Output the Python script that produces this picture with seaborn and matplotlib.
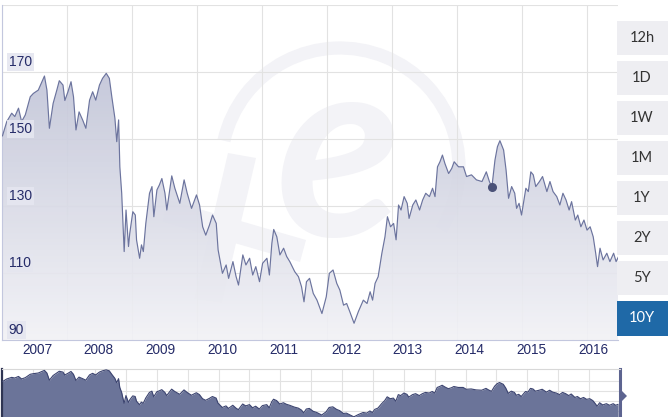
"""Grafico de tipo de cambio a 10 anos con navegador inferior."""

import numpy as np
import pandas as pd
import matplotlib
matplotlib.use("Agg")
import matplotlib.pyplot as plt
import seaborn as sns
from matplotlib.patches import Rectangle, Arc, Polygon
from matplotlib.colors import to_rgb
from matplotlib.transforms import blended_transform_factory


# datos (fecha en anos decimales, cotizacion)
YEARS = [
    2006.78, 2006.85, 2006.93, 2006.98, 2007.04, 2007.09, 2007.15, 2007.23, 2007.28, 2007.36,
    2007.42, 2007.46, 2007.50, 2007.54, 2007.60, 2007.66, 2007.70, 2007.76, 2007.79, 2007.84,
    2007.89, 2007.93, 2007.97, 2008.02, 2008.08, 2008.13, 2008.19, 2008.24, 2008.29, 2008.35,
    2008.40, 2008.46, 2008.51, 2008.55, 2008.60, 2008.63, 2008.66, 2008.68, 2008.71, 2008.75,
    2008.78, 2008.82, 2008.84, 2008.89, 2008.93, 2008.95, 2009.00, 2009.03, 2009.06, 2009.10,
    2009.16, 2009.20, 2009.23, 2009.28, 2009.32, 2009.36, 2009.41, 2009.44, 2009.52, 2009.57,
    2009.65, 2009.72, 2009.77, 2009.84, 2009.92, 2009.97, 2010.02, 2010.07, 2010.13, 2010.18,
    2010.24, 2010.27, 2010.31, 2010.34, 2010.40, 2010.44, 2010.51, 2010.56, 2010.60, 2010.67,
    2010.72, 2010.78, 2010.83, 2010.88, 2010.94, 2010.99, 2011.06, 2011.10, 2011.14, 2011.17,
    2011.22, 2011.27, 2011.33, 2011.38, 2011.43, 2011.51, 2011.57, 2011.62, 2011.66, 2011.70,
    2011.75, 2011.81, 2011.87, 2011.95, 2012.02, 2012.07, 2012.13, 2012.19, 2012.24, 2012.30,
    2012.35, 2012.40, 2012.47, 2012.54, 2012.62, 2012.68, 2012.73, 2012.77, 2012.81, 2012.86,
    2012.92, 2012.97, 2013.01, 2013.06, 2013.11, 2013.15, 2013.19, 2013.23, 2013.28, 2013.33,
    2013.36, 2013.42, 2013.47, 2013.53, 2013.58, 2013.63, 2013.69, 2013.74, 2013.78, 2013.82,
    2013.86, 2013.90, 2013.94, 2014.00, 2014.05, 2014.09, 2014.16, 2014.24, 2014.29, 2014.37,
    2014.45, 2014.54, 2014.61, 2014.66, 2014.70, 2014.75, 2014.79, 2014.83, 2014.89, 2014.93,
    2014.97, 2015.02, 2015.07, 2015.10, 2015.14, 2015.18, 2015.22, 2015.25, 2015.29, 2015.33,
    2015.37, 2015.41, 2015.47, 2015.52, 2015.59, 2015.64, 2015.69, 2015.75, 2015.80, 2015.85,
    2015.90, 2015.95, 2015.99, 2016.05, 2016.09, 2016.14, 2016.19, 2016.24, 2016.29, 2016.34,
    2016.38, 2016.41, 2016.45, 2016.50, 2016.56, 2016.61, 2016.67, 2016.71, 2016.75,
]
RATE = [
    150.9, 155.2, 157.7, 156.7, 159.2, 155.2, 157.2, 162.6, 163.6, 164.6,
    167.1, 168.8, 164.6, 153.2, 160.6, 164.6, 167.4, 166.1, 161.5, 164.1,
    167.1, 162.6, 152.7, 158.1, 155.6, 153.2, 161.6, 164.1, 161.6, 166.1,
    168.1, 169.6, 168.1, 162.6, 156.2, 149.2, 155.7, 141.7, 133.8, 116.4,
    128.8, 117.9, 121.8, 128.3, 127.3, 119.9, 114.4, 118.4, 116.4, 124.8,
    133.8, 135.8, 126.8, 134.8, 136.3, 138.2, 133.8, 128.8, 139.0, 135.3,
    130.8, 137.8, 133.8, 129.3, 133.3, 130.3, 123.8, 121.3, 124.3, 127.3,
    124.8, 116.9, 112.9, 109.9, 112.4, 108.4, 113.4, 109.0, 106.4, 115.4,
    112.4, 114.4, 109.4, 111.9, 107.4, 112.9, 114.4, 109.4, 118.9, 123.0,
    120.8, 115.4, 117.4, 114.9, 113.4, 110.4, 108.9, 105.9, 101.4, 107.4,
    108.4, 103.9, 101.9, 97.9, 102.9, 109.9, 110.9, 106.9, 104.9, 100.4,
    100.9, 98.5, 95.0, 98.5, 101.9, 100.9, 104.4, 101.9, 106.9, 108.9,
    115.9, 120.8, 126.8, 123.8, 124.8, 119.9, 130.3, 128.8, 132.8, 130.8,
    126.3, 130.3, 131.8, 128.8, 131.8, 133.8, 132.8, 135.3, 132.8, 141.7,
    143.2, 145.2, 142.7, 139.7, 141.2, 143.2, 141.7, 141.7, 138.8, 139.3,
    137.8, 137.3, 140.2, 137.3, 135.6, 143.7, 147.7, 149.5, 146.7, 140.7,
    132.3, 135.8, 133.8, 129.3, 130.8, 127.3, 131.8, 135.3, 134.3, 140.2,
    139.3, 135.8, 137.3, 138.8, 134.3, 137.3, 134.3, 132.8, 130.3, 133.8,
    131.8, 128.8, 131.3, 125.8, 127.3, 123.8, 125.8, 122.8, 123.8, 120.8,
    115.9, 111.9, 117.4, 113.9, 115.9, 113.4, 115.9, 113.4, 114.9,
]
MARKER_DATE = 2014.70

Y_TICKS = [90, 110, 130, 150, 170]
YEAR_TICKS = [2007, 2008, 2009, 2010, 2011, 2012, 2013, 2014, 2015, 2016]
RANGE_BUTTONS = ["12h", "1D", "1W", "1M", "1Y", "2Y", "5Y", "10Y"]
SELECTED = "10Y"

W, H = 670, 417
LINE = "#6c749e"
GRID = "#e2e2e2"
AXIS = "#c3c7de"
LABEL = "#252b68"
WATERMARK = "#f3f3f7"


def fx(px):
    return px / W


def fy(py):
    return 1 - py / H


def gradient_fill(ax, x, y, base, top_val, c_top, c_bot, alpha=0.92):
    poly = ax.fill_between(x, y, base, color="none", lw=0)
    t = np.linspace(0, 1, 256).reshape(-1, 1)
    top, bot = np.array(to_rgb(c_top)), np.array(to_rgb(c_bot))
    rgba = np.ones((256, 1, 4))
    rgba[..., :3] = bot + (top - bot) * t[..., None]
    rgba[..., 3] = alpha
    x0, x1 = ax.get_xlim()
    img = ax.imshow(rgba, extent=[x0, x1, base, top_val], origin="lower",
                    aspect="auto", zorder=2, interpolation="bilinear")
    img.set_clip_path(poly.get_paths()[0], transform=ax.transData)


sns.set_style("white")
plt.rcParams["font.family"] = ["Liberation Sans", "DejaVu Sans"]

df = pd.DataFrame({"t": YEARS, "rate": RATE})
fig = plt.figure(figsize=(W / 100, H / 100), dpi=100)

# marca de agua (logo) detras del grafico
fig.add_artist(Arc((fx(340), fy(167)), 2 * 119 / W, 2 * 119 / H, theta1=-45, theta2=160,
                   transform=fig.transFigure, color=WATERMARK, lw=9.5, zorder=-1))
fig.add_artist(Polygon([(fx(228), fy(153)), (fx(256), fy(158)), (fx(222), fy(303)), (fx(194), fy(299))],
                       closed=True, transform=fig.transFigure, color=WATERMARK, lw=0, zorder=-1))
fig.add_artist(Polygon([(fx(168), fy(200)), (fx(306), fy(240)), (fx(300), fy(262)), (fx(162), fy(222))],
                       closed=True, transform=fig.transFigure, color=WATERMARK, lw=0, zorder=-1))
fig.text(fx(338), fy(236), "e", fontsize=186, fontweight="bold", style="italic", family=["Lato", "DejaVu Sans"],
         color=WATERMARK, ha="center", va="baseline", zorder=-1)

# grafico principal
ax = fig.add_axes([fx(2), fy(340), 616 / W, 335 / H])
ax.set_facecolor("none")
x_lim = (2006.773, 2016.741)
ax.set_xlim(x_lim)
ax.set_ylim(90, 190)
gradient_fill(ax, df["t"], df["rate"], 90, 170, "#c2c5d8", "#f2f2f6")
sns.lineplot(data=df, x="t", y="rate", ax=ax, color=LINE, lw=0.85, zorder=3)
mk = df[np.isclose(df["t"], MARKER_DATE)]
ax.plot(mk["t"], mk["rate"], "o", color="#4b5278", ms=5.5, zorder=4)
ax.set_xlim(x_lim)
ax.set_ylim(90, 190)

ax.set_yticks(Y_TICKS[1:] + [190])
ax.set_xticks(YEAR_TICKS)
ax.set_xticks(np.arange(x_lim[0], x_lim[1], 1.0518), minor=True)
ax.grid(False)
ax.grid(axis="y", which="major", color=GRID, lw=0.8)
ax.grid(axis="x", which="minor", color=GRID, lw=0.8)
ax.tick_params(axis="y", length=0, labelleft=False)
ax.tick_params(axis="x", which="major", length=7.2, width=0.8, color=AXIS, labelbottom=False)
ax.tick_params(axis="x", which="minor", length=0)
ax.set_xlabel("")
ax.set_ylabel("")
for side in ["top", "right"]:
    ax.spines[side].set_visible(False)
ax.spines["left"].set_color(AXIS)
ax.spines["bottom"].set_color(AXIS)

xtrans = blended_transform_factory(ax.transData, ax.transAxes)
ytrans = blended_transform_factory(ax.transAxes, ax.transData)
for yr in YEAR_TICKS:
    ax.annotate(str(yr), xy=(yr, 0), xycoords=xtrans, xytext=(4.3, -7.4), textcoords="offset points",
                ha="left", va="center", fontsize=9.8, color=LABEL)
for v in Y_TICKS:
    ax.annotate(str(v), xy=(0, v), xycoords=ytrans, xytext=(4.8, 2.2), textcoords="offset points",
                ha="left", va="bottom", fontsize=10, color=LABEL, zorder=5,
                bbox=dict(boxstyle="square,pad=0.15", fc="#e5e6f0", ec="none", alpha=0.9))

# navegador inferior
nav = fig.add_axes([fx(2), fy(420), 618 / W, 51 / H])
nav.set_facecolor("white")
nav_lim = (2006.773, 2016.774)
nav.fill_between(df["t"], df["rate"], 80, color="#6b7499", lw=0, zorder=2)
sns.lineplot(data=df, x="t", y="rate", ax=nav, color="#3c4470", lw=0.8, zorder=3)
nav.set_xlim(nav_lim)
nav.set_ylim(90, 171)
nav.set_xticks(np.arange(2006.78, 2017, 0.5))
nav.set_yticks([104, 120, 136, 152])
nav.grid(True, color=GRID, lw=0.8)
nav.tick_params(length=0, labelleft=False, labelbottom=False)
nav.set_xlabel("")
nav.set_ylabel("")
nav.spines["bottom"].set_visible(False)
nav.spines["top"].set_color("#d8d8d8")
nav.spines["left"].set_color("#2f3553")
nav.spines["left"].set_linewidth(1.6)
nav.spines["right"].set_color("#5d6490")
nav.spines["right"].set_linewidth(2.2)
fig.add_artist(Polygon([(fx(621), fy(390)), (fx(627), fy(396)), (fx(621), fy(402))], closed=True,
                       transform=fig.transFigure, color="#5d6490", lw=0))

# botones de rango
for i, label in enumerate(RANGE_BUTTONS):
    top = 21 + 40 * i
    h = 35 if label == SELECTED else 34
    sel = label == SELECTED
    fig.add_artist(Rectangle((fx(617), fy(top + h)), 51 / W, h / H, transform=fig.transFigure,
                             color="#1f69a7" if sel else "#eeeef2", lw=0))
    fig.text(fx(642), fy(top + h / 2), label, ha="center", va="center", fontsize=10.5,
             family=["Lato", "DejaVu Sans"], color="white" if sel else "#333333")

fig.savefig("out.png", dpi=100, facecolor="white")
